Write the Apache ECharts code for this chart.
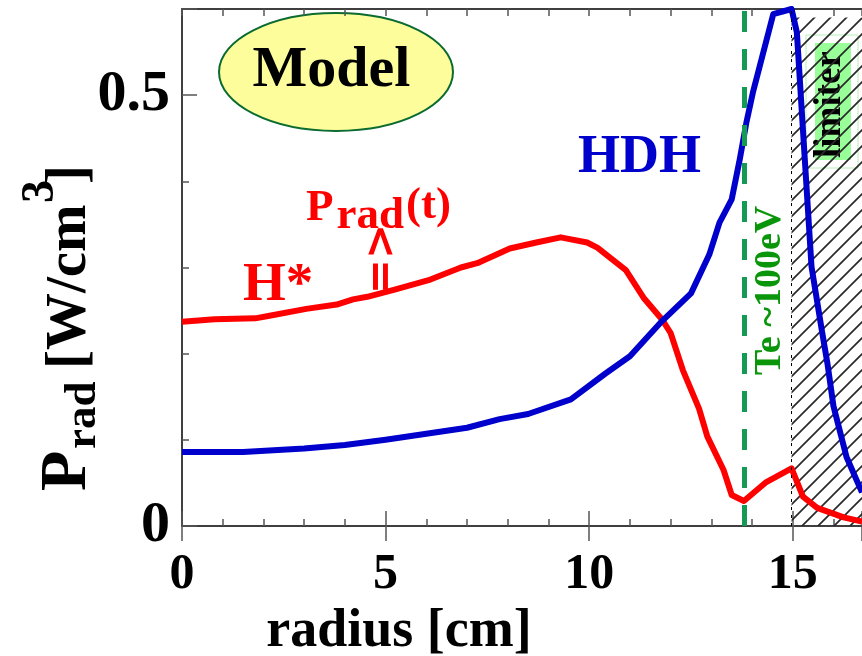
<!DOCTYPE html>
<html>
<head>
<meta charset="utf-8">
<script src="https://cdn.jsdelivr.net/npm/echarts@6/dist/echarts.min.js"></script>
<style>
  html, body { margin: 0; padding: 0; background: #ffffff; }
  #chart { width: 862px; height: 656px; }
</style>
</head>
<body>
<div id="chart"></div>
<script>
const SERIF = '"Liberation Serif", "Times New Roman", Times, serif';

// Radiated power density P_rad [W/cm^3] against minor radius [cm]
const radiusHstar = [0, 0.8, 1.8, 2.15, 3.05, 3.8, 4.2, 4.55, 5.2, 6.1, 6.85, 7.25, 8.05, 8.7, 9.3, 9.95, 10.2, 10.9, 11.35, 11.8, 12.0, 12.3, 12.7, 12.9, 13.3, 13.5, 13.8, 14.35, 14.97, 15.25, 15.6, 16.25, 16.7];
const pradHstar   = [0.237, 0.240, 0.241, 0.244, 0.252, 0.257, 0.263, 0.266, 0.274, 0.286, 0.300, 0.305, 0.322, 0.329, 0.335, 0.329, 0.323, 0.297, 0.264, 0.239, 0.224, 0.181, 0.136, 0.104, 0.065, 0.036, 0.029, 0.051, 0.067, 0.034, 0.021, 0.010, 0.005];

const radiusHDH = [0, 1.5, 3.0, 4.0, 5.0, 6.0, 7.0, 7.8, 8.5, 9.55, 10.4, 11.0, 11.75, 12.5, 12.95, 13.2, 13.5, 13.7, 13.86, 14.02, 14.52, 14.97, 15.1, 15.46, 15.71, 15.85, 16.0, 16.32, 16.57, 16.7];
const pradHDH   = [0.086, 0.086, 0.090, 0.094, 0.100, 0.107, 0.114, 0.124, 0.130, 0.147, 0.177, 0.197, 0.236, 0.270, 0.315, 0.352, 0.379, 0.426, 0.468, 0.503, 0.594, 0.600, 0.573, 0.301, 0.228, 0.189, 0.139, 0.080, 0.053, 0.039];

// Reference radii: Te ~ 100 eV surface and the limiter edge
const teRadius = 13.82;
const limiterRadius = 14.97;

// Axis ranges and labelled ticks
const radiusMax = 16.7;
const pradMax = 0.6;
const xTickLabels = [0, 5, 10, 15];
const yTickLabels = [0, 0.5];

function zip(xs, ys) { return xs.map((x, i) => [x, ys[i]]); }

// Diagonal hatch tile for the limiter shadow
function hatchTile() {
  const s = 16;
  const c = document.createElement('canvas');
  c.width = s; c.height = s;
  const g = c.getContext('2d');
  g.strokeStyle = '#2a2a2a';
  g.lineWidth = 1.7;
  g.beginPath();
  g.moveTo(-1, s + 1); g.lineTo(s + 1, -1);
  g.moveTo(-2, 2); g.lineTo(2, -2);
  g.moveTo(s - 2, s + 2); g.lineTo(s + 2, s - 2);
  g.stroke();
  return c;
}

const tickStyle = { color: '#555', width: 1.5 };
const xBase = {
  type: 'value', min: 0, max: radiusMax,
  splitLine: { show: false },
  axisLine: { show: true, onZero: false, lineStyle: { color: '#000', width: 1.5 } }
};
const yBase = {
  type: 'value', min: 0, max: pradMax,
  splitLine: { show: false }
};

const bold = (size, color, family) => ({ fontFamily: family || SERIF, fontWeight: 'bold', fontSize: size, fill: color });

function rotText(text, x, y, size, color, rot) {
  return {
    type: 'text', x: x, y: y, rotation: rot, silent: true,
    style: Object.assign({ text: text, align: 'left', verticalAlign: 'middle' }, bold(size, color))
  };
}

const chart = echarts.init(document.getElementById('chart'), null, { renderer: 'canvas' });

chart.setOption({
  animation: false,
  backgroundColor: '#ffffff',
  grid: { left: 182, right: 0, top: 9, bottom: 130, containLabel: false, outerBoundsMode: 'none' },
  xAxis: [
    Object.assign({}, xBase, {
      position: 'bottom', interval: 1,
      axisTick: { inside: true, length: 7, lineStyle: tickStyle },
      axisLabel: {
        margin: 24, fontSize: 50, fontWeight: 'bold', fontFamily: SERIF, color: '#000',
        formatter: v => (xTickLabels.some(t => Math.abs(t - v) < 1e-9) ? String(Math.round(v)) : '')
      },
      name: 'radius [cm]', nameLocation: 'middle', nameGap: 76,
      nameTextStyle: { fontSize: 54, fontWeight: 'bold', fontFamily: SERIF, color: '#000', padding: [0, 246, 0, 0] }
    }),
    Object.assign({}, xBase, {
      position: 'bottom', interval: 5,
      axisLine: { show: false },
      axisTick: { inside: true, length: 15, lineStyle: tickStyle },
      axisLabel: { show: false }
    }),
    Object.assign({}, xBase, {
      position: 'top', interval: 1,
      axisTick: { inside: true, length: 7, lineStyle: tickStyle },
      axisLabel: { show: false }
    }),
    Object.assign({}, xBase, {
      position: 'top', interval: 5,
      axisLine: { show: false },
      axisTick: { inside: true, length: 15, lineStyle: tickStyle },
      axisLabel: { show: false }
    })
  ],
  yAxis: [
    Object.assign({}, yBase, {
      position: 'left', interval: 0.1,
      axisLine: { show: true, onZero: false, lineStyle: { color: '#000', width: 1.5 } },
      axisTick: { inside: true, length: 7, lineStyle: tickStyle },
      axisLabel: {
        margin: 12, fontSize: 58, fontWeight: 'bold', fontFamily: SERIF, color: '#000',
        formatter: v => {
          const t = yTickLabels.find(t => Math.abs(t - v) < 1e-9);
          return t === undefined ? '' : String(t);
        }
      }
    }),
    Object.assign({}, yBase, {
      position: 'left', interval: 0.5,
      axisLine: { show: false },
      axisTick: { inside: true, length: 15, lineStyle: tickStyle },
      axisLabel: { show: false }
    })
  ],
  series: [
    {
      name: 'limiter shadow', type: 'line', data: [], silent: true,
      xAxisIndex: 0, yAxisIndex: 0,
      markArea: {
        silent: true,
        itemStyle: { color: { image: hatchTile(), repeat: 'repeat' }, borderWidth: 0, opacity: 1 },
        label: { show: false },
        data: [[{ xAxis: limiterRadius, yAxis: 0 }, { xAxis: radiusMax, yAxis: 0.59 }]]
      },
      markLine: {
        silent: true, symbol: 'none', label: { show: false },
        data: [
          { xAxis: teRadius, lineStyle: { color: '#149a55', width: 5, type: [21, 17] } },
          { xAxis: limiterRadius, lineStyle: { color: '#000', width: 1, type: [3, 5] } }
        ]
      }
    },
    {
      name: 'H*', type: 'line', xAxisIndex: 0, yAxisIndex: 0, z: 3,
      data: zip(radiusHstar, pradHstar),
      showSymbol: false, symbol: 'none', smooth: false,
      lineStyle: { color: '#ff0000', width: 6, join: 'round' },
      emphasis: { disabled: true }
    },
    {
      name: 'HDH', type: 'line', xAxisIndex: 0, yAxisIndex: 0, z: 4,
      data: zip(radiusHDH, pradHDH),
      showSymbol: false, symbol: 'none', smooth: false,
      lineStyle: { color: '#0000cc', width: 6, join: 'round' },
      emphasis: { disabled: true }
    }
  ],
  graphic: [
    // model badge
    { type: 'ellipse', silent: true, shape: { cx: 336, cy: 72, rx: 117, ry: 59 },
      style: { fill: '#fdfd9b', stroke: '#0b6b30', lineWidth: 2 } },
    { type: 'text', x: 331.5, y: 71.3, silent: true,
      style: Object.assign({ text: 'Model', align: 'center', verticalAlign: 'middle' }, bold(58, '#000')) },

    // limiter tag
    { type: 'rect', silent: true, shape: { x: 806, y: 35, width: 52, height: 133 },
      style: { fill: '#ffffff', stroke: '#b8f0b8', lineWidth: 1 } },
    { type: 'rect', silent: true, shape: { x: 815, y: 43, width: 36, height: 117 },
      style: { fill: '#99ff99' } },
    rotText('limiter', 830.7, 158, 37, '#000', Math.PI / 2),

    // Te ~ 100 eV marker label
    rotText('Te ~100eV', 770.4, 375, 38, '#0a960a', Math.PI / 2),

    // curve labels
    { type: 'text', x: 578, y: 158.5, silent: true,
      style: Object.assign({ text: 'HDH', align: 'left', verticalAlign: 'middle' }, bold(54, '#0000cc')) },
    { type: 'text', x: 243, y: 286.2, silent: true,
      style: Object.assign({ text: 'H*', align: 'left', verticalAlign: 'middle' }, bold(55, '#ff0000')) },
    { type: 'text', x: 306, y: 208, silent: true,
      style: Object.assign({ text: 'P', align: 'left', verticalAlign: 'middle' }, bold(45, '#ff0000')) },
    { type: 'text', x: 336.5, y: 216.3, silent: true,
      style: Object.assign({ text: 'rad', align: 'left', verticalAlign: 'middle' }, bold(45, '#ff0000')) },
    { type: 'text', x: 406, y: 206.3, silent: true,
      style: Object.assign({ text: '(t)', align: 'left', verticalAlign: 'middle' }, bold(45, '#ff0000')) },
    { type: 'text', x: 377.5, y: 259, rotation: -Math.PI / 2, silent: true,
      style: Object.assign({ text: '<=', align: 'center', verticalAlign: 'middle' }, bold(42, '#ff0000', '"DejaVu Sans", sans-serif')) },

    // y-axis title: P_rad [W/cm^3]
    rotText('P', 67.9, 491, 66, '#000', Math.PI / 2),
    rotText('rad', 83.3, 449, 45, '#000', Math.PI / 2),
    rotText('[W/cm', 70.6, 369, 57, '#000', Math.PI / 2),
    rotText('3', 41, 203, 46, '#000', Math.PI / 2),
    rotText(']', 70.6, 184, 57, '#000', Math.PI / 2)
  ]
});
</script>
</body>
</html>
